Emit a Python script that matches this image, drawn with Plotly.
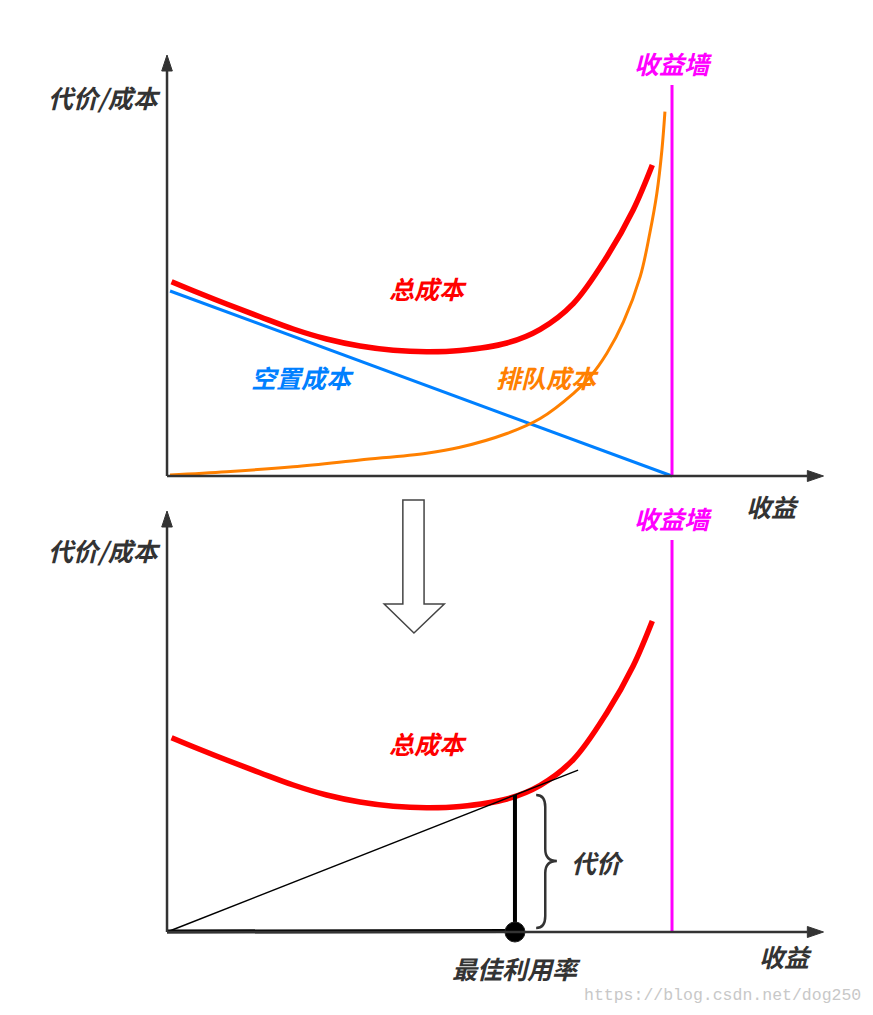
import plotly.graph_objects as go

# ---- data (x: revenue units, wall at 1.0; y: cost units) ----
total_x = [0.009, 0.052, 0.118, 0.184, 0.250, 0.316, 0.382, 0.448, 0.514, 0.580,
           0.673, 0.739, 0.805, 0.871, 0.923, 0.961]
total_y = [1.943, 1.853, 1.72, 1.593, 1.47, 1.37, 1.30, 1.258, 1.243, 1.255,
           1.33, 1.467, 1.727, 2.193, 2.66, 3.11]
queue_x = [0.006, 0.118, 0.250, 0.382, 0.514, 0.580, 0.673, 0.739, 0.805, 0.838, 0.871,
           0.904, 0.937, 0.956, 0.970, 0.980, 0.986]
queue_y = [0.01, 0.043, 0.093, 0.16, 0.228, 0.287, 0.425, 0.575, 0.827, 0.993, 1.227,
           1.543, 1.993, 2.427, 2.827, 3.26, 3.643]
idle_x = [0.006, 1.0]
idle_y = [1.85, 0.0]
wall_x = 1.0
wall_top = 3.91
wall_bottom2 = 3.92
opt_x = 0.689
opt_y = 1.37
tangent_end_x = 0.814
axis_x_end = 1.30
axis_y_end = 4.21

RED = "#FF0000"
BLUE = "#0080FF"
ORANGE = "#FF8000"
MAGENTA = "#FF00FF"
DARK = "#333333"
FONT = "Noto Sans CJK SC"

fig = go.Figure()

# top panel
fig.add_trace(go.Scatter(x=idle_x, y=idle_y, mode="lines", line=dict(color=BLUE, width=3), yaxis="y"))
fig.add_trace(go.Scatter(x=queue_x, y=queue_y, mode="lines", line=dict(color=ORANGE, width=3, shape="spline", smoothing=1.0), yaxis="y"))
fig.add_trace(go.Scatter(x=total_x, y=total_y, mode="lines", line=dict(color=RED, width=5.5, shape="spline", smoothing=1.0), yaxis="y"))
fig.add_trace(go.Scatter(x=[wall_x, wall_x], y=[0, wall_top], mode="lines", line=dict(color=MAGENTA, width=3), yaxis="y"))

# bottom panel
fig.add_trace(go.Scatter(x=total_x, y=total_y, mode="lines", line=dict(color=RED, width=5.5, shape="spline", smoothing=1.0), yaxis="y2"))
fig.add_trace(go.Scatter(x=[wall_x, wall_x], y=[0, wall_bottom2], mode="lines", line=dict(color=MAGENTA, width=3), yaxis="y2"))
tan_slope = opt_y / opt_x
fig.add_trace(go.Scatter(x=[0, tangent_end_x], y=[0, tan_slope * tangent_end_x], mode="lines", line=dict(color="black", width=1.5), yaxis="y2"))
fig.add_trace(go.Scatter(x=[0, opt_x], y=[0.005, 0.01], mode="lines", line=dict(color="black", width=4), yaxis="y2"))
fig.add_trace(go.Scatter(x=[opt_x, opt_x], y=[0, opt_y], mode="lines", line=dict(color="black", width=4), yaxis="y2"))
fig.add_trace(go.Scatter(x=[opt_x], y=[0.0], mode="markers", marker=dict(color="black", size=20, line=dict(color="#222", width=1)), yaxis="y2"))

shapes = []
# axes with arrows
xh = 0.032  # arrow head length in x units
yh = 0.16   # arrow head length in y units
for yr in ["y", "y2"]:
    shapes.append(dict(type="line", xref="x", yref=yr, x0=0, y0=0, x1=axis_x_end - xh, y1=0, line=dict(color=DARK, width=2.5)))
    shapes.append(dict(type="line", xref="x", yref=yr, x0=0, y0=0, x1=0, y1=axis_y_end - yh, line=dict(color=DARK, width=2.5)))
    shapes.append(dict(type="path", xref="x", yref=yr,
                       path=f"M {axis_x_end - xh},{0.055} L {axis_x_end},0 L {axis_x_end - xh},{-0.055} Z",
                       fillcolor=DARK, line=dict(color=DARK, width=1)))
    shapes.append(dict(type="path", xref="x", yref=yr,
                       path=f"M {-0.0105},{axis_y_end - yh} L 0,{axis_y_end} L {0.0105},{axis_y_end - yh} Z",
                       fillcolor=DARK, line=dict(color=DARK, width=1)))

# brace
bx0 = opt_x + 0.042
bx1 = opt_x + 0.060
bxt = opt_x + 0.083
yt = opt_y
ym = opt_y / 2 + 0.025
yb = 0.04
r = 0.12
shapes.append(dict(type="path", xref="x", yref="y2",
                   path=(f"M {bx0},{yt} Q {bx1},{yt} {bx1},{yt - r} L {bx1},{ym + r} "
                         f"Q {bx1},{ym} {bxt},{ym} Q {bx1},{ym} {bx1},{ym - r} "
                         f"L {bx1},{yb + r} Q {bx1},{yb} {bx0},{yb}"),
                   line=dict(color=DARK, width=2.5)))

# hollow down arrow
shapes.append(dict(type="path", xref="x", yref="y2",
                   path="M 0.467,4.32 L 0.509,4.32 L 0.509,3.28 L 0.549,3.28 L 0.489,2.99 L 0.430,3.28 L 0.467,3.28 Z",
                   fillcolor="white", line=dict(color="#444444", width=1.5)))

def lab(text, x, y, yref, color, size=25):
    return dict(text=text, x=x, y=y, xref="x", yref=yref, showarrow=False,
                xanchor="center", yanchor="middle",
                font=dict(family=FONT, size=size, color=color, weight="bold", style="italic"))

W, H = 865, 1007  # page has an 8px body margin
annotations = [
    lab("代价/成本", -0.123, 3.79, "y", DARK),
    lab("收益墙", 1.002, 4.13, "y", MAGENTA),
    lab("总成本", 0.517, 1.88, "y", RED),
    lab("空置成本", 0.269, 0.99, "y", BLUE),
    lab("排队成本", 0.754, 0.99, "y", ORANGE),
    lab("收益", 1.198, -0.30, "y", DARK),
    lab("收益墙", 1.002, 4.14, "y2", MAGENTA),
    lab("代价/成本", -0.123, 3.82, "y2", DARK),
    lab("总成本", 0.517, 1.89, "y2", RED),
    lab("代价", 0.853, 0.70, "y2", DARK),
    lab("最佳利用率", 0.693, -0.36, "y2", DARK),
    lab("收益", 1.224, -0.24, "y2", DARK),
    dict(text="https://blog.csdn.net/dog250", x=(722 - 8) / W, y=1 - (995 - 8) / H, xref="paper", yref="paper",
         showarrow=False, xanchor="center", yanchor="middle",
         font=dict(family="Liberation Mono", size=16.5, color="#c8c8c8")),
]

fig.update_layout(
    width=W, height=H,
    margin=dict(l=0, r=0, t=0, b=0),
    paper_bgcolor="white", plot_bgcolor="white",
    showlegend=False,
    xaxis=dict(range=[-0.3149, 1.3980], domain=[0, 1], visible=False, fixedrange=True),
    yaxis=dict(range=[-5.39, 4.68], domain=[0, 1], visible=False, fixedrange=True),
    yaxis2=dict(range=[-0.83, 9.24], domain=[0, 1], visible=False, overlaying="y", anchor="x", fixedrange=True),
    shapes=shapes,
    annotations=annotations,
)

fig.write_html("out.html")
